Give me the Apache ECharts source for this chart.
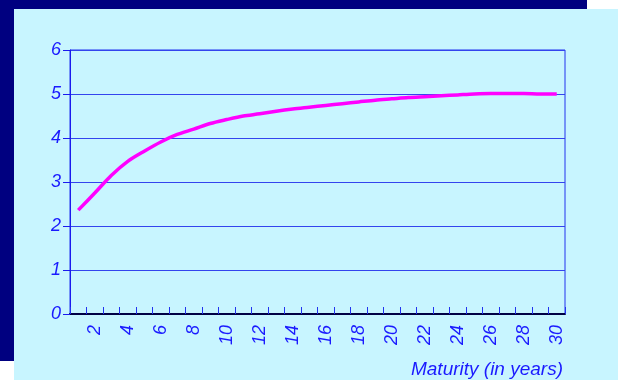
<!DOCTYPE html>
<html>
<head>
<meta charset="utf-8">
<script src="https://cdn.jsdelivr.net/npm/echarts@6/dist/echarts.min.js"></script>
<style>
  html, body { margin: 0; padding: 0; background: #ffffff; }
  #frame { position: absolute; left: 0; top: 0; width: 587px; height: 361px; background: #000080; }
  #panel { position: absolute; left: 14px; top: 9px; width: 604px; height: 371px; background: #c8f5ff; }
  #chart { position: absolute; left: 0; top: 0; width: 618px; height: 380px; }
</style>
</head>
<body>
<div id="frame"></div>
<div id="panel"></div>
<div id="chart"></div>
<script>
// Maturity in years (one category per year)
const maturities = ['1','2','3','4','5','6','7','8','9','10','11','12','13','14','15',
                    '16','17','18','19','20','21','22','23','24','25','26','27','28','29','30'];
// Yield for each maturity (percent)
const yields = [2.36, 2.75, 3.15, 3.47, 3.70, 3.91, 4.08, 4.20, 4.33, 4.42,
                4.50, 4.55, 4.61, 4.66, 4.70, 4.74, 4.78, 4.82, 4.86, 4.89,
                4.92, 4.94, 4.96, 4.98, 5.00, 5.01, 5.01, 5.01, 5.00, 5.00];
const yTicks = { min: 0, max: 6, interval: 1 };
const xTitle = 'Maturity (in years)';

const labelFont = {
  color: '#1a1aff',
  fontFamily: '"Liberation Sans", Arial, sans-serif',
  fontStyle: 'italic',
  fontSize: 18
};

const chart = echarts.init(document.getElementById('chart'), null, { renderer: 'canvas' });
chart.setOption({
  backgroundColor: 'transparent',
  animation: false,
  grid: {
    left: 70, right: 53, top: 50, bottom: 66,
    show: true, borderColor: '#2233ee', borderWidth: 1,
    backgroundColor: 'transparent'
  },
  xAxis: {
    type: 'category',
    data: maturities,
    boundaryGap: true,
    axisLine: { show: true, lineStyle: { color: '#000044', width: 2 } },
    axisTick: { show: true, inside: true, length: 7, interval: 0, lineStyle: { color: '#2233ee', width: 1 } },
    axisLabel: Object.assign({
      rotate: 90,
      margin: 11,
      interval: (idx) => idx % 2 === 1
    }, labelFont),
    splitLine: { show: false }
  },
  yAxis: {
    type: 'value',
    min: yTicks.min, max: yTicks.max, interval: yTicks.interval,
    axisLine: { show: true, lineStyle: { color: '#1a1aee', width: 1 } },
    axisTick: { show: true, inside: false, length: 7, lineStyle: { color: '#1a1aee' } },
    axisLabel: Object.assign({ margin: 9 }, labelFont),
    splitLine: { show: true, lineStyle: { color: '#3344ee', width: 1 } }
  },
  graphic: [{
    type: 'text',
    right: 55,
    top: 360,
    style: {
      text: xTitle,
      fill: '#1a1aff',
      font: 'italic 19px "Liberation Sans", Arial, sans-serif'
    }
  }],
  series: [{
    type: 'line',
    data: yields,
    smooth: 0.3,
    showSymbol: false,
    lineStyle: { color: '#ff00ff', width: 3.5 },
    z: 5
  }]
});
</script>
</body>
</html>
